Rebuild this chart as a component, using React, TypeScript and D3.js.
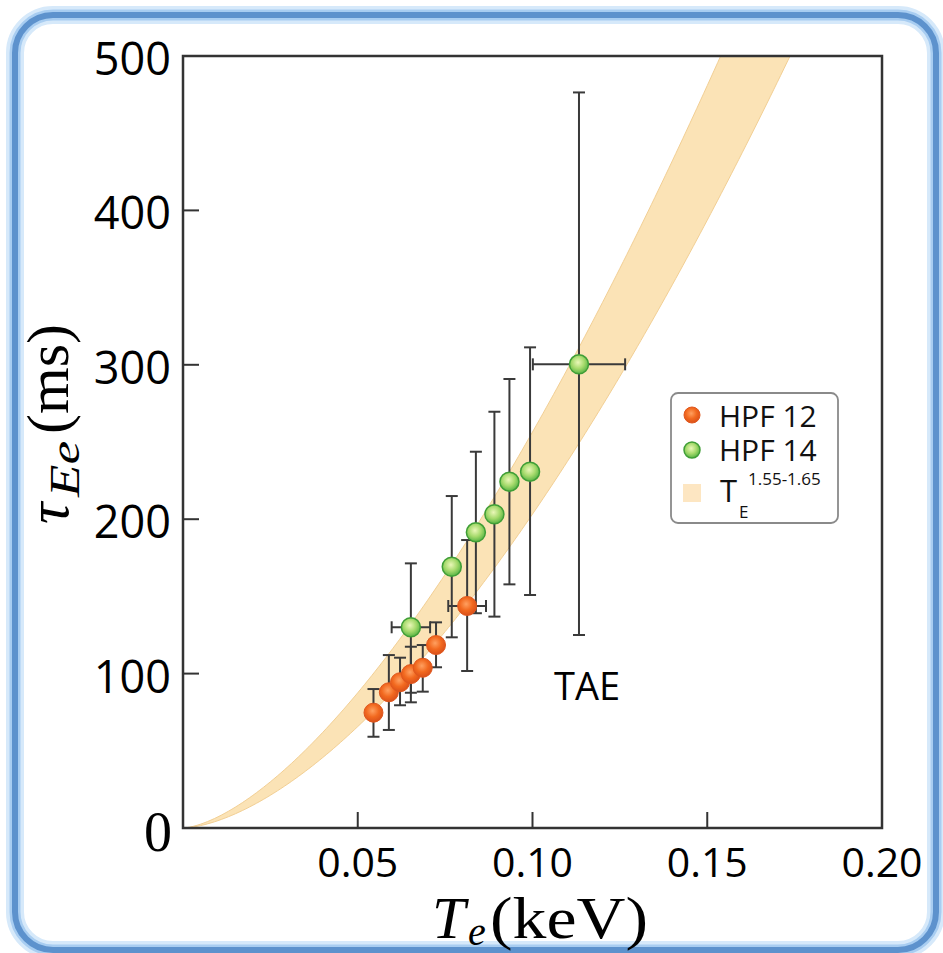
import React from "react";
import * as d3 from "d3";

// ---- data ----
const xTickValues = [0.05, 0.1, 0.15, 0.2];
const xTickLabels = ["0.05", "0.10", "0.15", "0.20"];
const yTickValues = [100, 200, 300, 400, 500];
const yTickLabels = ["100", "200", "300", "400", "500"];

const hpf12T = [0.0545, 0.0589, 0.0621, 0.0652, 0.0686, 0.0724, 0.0813];
const hpf12Tau = [74.7, 87.9, 94.4, 99.7, 103.8, 118.5, 143.8];
const hpf12Lo = [59.1, 63.5, 79.5, 81.4, 88.3, 104.1, 101.7];
const hpf12Hi = [90.0, 112.0, 110.3, 117.4, 118.5, 133.2, 186.5];
const hpf12XErr: [number, number, number][] = [[6, 0.0759, 0.0867]];

const hpf14T = [0.0652, 0.0769, 0.0838, 0.0891, 0.0934, 0.0993, 0.1133];
const hpf14Tau = [130.0, 169.2, 191.5, 203.2, 224.3, 230.8, 300.3];
const hpf14Lo = [87.6, 123.5, 139.1, 136.9, 157.8, 150.9, 125.0];
const hpf14Hi = [171.4, 215.0, 243.7, 269.6, 290.8, 311.3, 476.4];
const hpf14XErr: [number, number, number][] = [
  [0, 0.0597, 0.0707],
  [6, 0.1001, 0.1265],
];

// band  tau = c * T^p  (upper and lower edge)
const bandExp = [1.55, 1.63];
const bandCoef = [9100, 8672];

const W = 943;
const H = 953;
const M = { left: 183, right: 882, top: 56, bottom: 828 };

export default function App() {
  const x = d3.scaleLinear().domain([0, 0.2]).range([M.left, M.right]);
  const y = d3.scaleLinear().domain([0, 500]).range([M.bottom, M.top]);

  const Ts = d3.range(0, 0.2001, 0.001);
  const band = d3
    .area<number>()
    .x((t) => x(t))
    .y0((t) => y(bandCoef[1] * Math.pow(t, bandExp[1])))
    .y1((t) => y(bandCoef[0] * Math.pow(t, bandExp[0])))
    .curve(d3.curveLinear)(Ts) as string;

  const cap = 6;
  const errColor = "#3a3a3a";

  const errBars = (T: number[], lo: number[], hi: number[], xe: [number, number, number][], tau: number[], key: string) => (
    <g key={key} stroke={errColor} strokeWidth={2}>
      {T.map((t, i) => (
        <g key={i}>
          <line x1={x(t)} x2={x(t)} y1={y(lo[i])} y2={y(hi[i])} />
          <line x1={x(t) - cap} x2={x(t) + cap} y1={y(lo[i])} y2={y(lo[i])} />
          <line x1={x(t) - cap} x2={x(t) + cap} y1={y(hi[i])} y2={y(hi[i])} />
        </g>
      ))}
      {xe.map(([i, a, b], k) => (
        <g key={"x" + k}>
          <line x1={x(a)} x2={x(b)} y1={y(tau[i])} y2={y(tau[i])} />
          <line x1={x(a)} x2={x(a)} y1={y(tau[i]) - cap} y2={y(tau[i]) + cap} />
          <line x1={x(b)} x2={x(b)} y1={y(tau[i]) - cap} y2={y(tau[i]) + cap} />
        </g>
      ))}
    </g>
  );

  const r = 9.5;
  const tickFont = "'Open Sans', sans-serif";
  const mathFont = "'Liberation Serif', serif";

  return (
    <svg width={W} height={H} style={{ position: "absolute", left: 0, top: 0, background: "#fff" }}>
      <defs>
        <radialGradient id="gOrange" cx="45%" cy="40%" r="60%">
          <stop offset="0%" stopColor="#ffa060" />
          <stop offset="55%" stopColor="#f2691f" />
          <stop offset="100%" stopColor="#d9501a" />
        </radialGradient>
        <radialGradient id="gGreen" cx="45%" cy="40%" r="60%">
          <stop offset="0%" stopColor="#eaf7b8" />
          <stop offset="55%" stopColor="#a6da6c" />
          <stop offset="100%" stopColor="#58b445" />
        </radialGradient>
        <clipPath id="plotClip">
          <rect x={M.left} y={M.top} width={M.right - M.left} height={M.bottom - M.top} />
        </clipPath>
      </defs>

      {/* frame with glow */}
      <rect x={15} y={15} width={921} height={935} rx={38} fill="none" stroke="#d6e9fa" strokeWidth={18} />
      <rect x={15} y={15} width={921} height={935} rx={38} fill="none" stroke="#a8cdf1" strokeWidth={11} />
      <rect x={15} y={15} width={921} height={935} rx={38} fill="none" stroke="#5d92cd" strokeWidth={6} />

      {/* band */}
      <g clipPath="url(#plotClip)">
        <path d={band} fill="#fbe3b6" stroke="#f2cf94" strokeWidth={1} />
      </g>

      {/* error bars */}
      {errBars(hpf12T, hpf12Lo, hpf12Hi, hpf12XErr, hpf12Tau, "e12")}
      {errBars(hpf14T, hpf14Lo, hpf14Hi, hpf14XErr, hpf14Tau, "e14")}

      {/* points */}
      {hpf14T.map((t, i) => (
        <circle key={"g" + i} cx={x(t)} cy={y(hpf14Tau[i])} r={r} fill="url(#gGreen)" stroke="#3f9e36" strokeWidth={1.5} />
      ))}
      {hpf12T.map((t, i) => (
        <circle key={"o" + i} cx={x(t)} cy={y(hpf12Tau[i])} r={r} fill="url(#gOrange)" stroke="#e0561c" strokeWidth={1} />
      ))}

      {/* axes box */}
      <rect x={M.left} y={M.top} width={M.right - M.left} height={M.bottom - M.top} fill="none" stroke="#333" strokeWidth={2.5} />
      {xTickValues.slice(0, 3).map((v, i) => (
        <line key={"xt" + i} x1={x(v)} x2={x(v)} y1={M.bottom} y2={M.bottom - 16} stroke="#333" strokeWidth={2} />
      ))}
      {yTickValues.slice(0, 4).map((v, i) => (
        <line key={"yt" + i} x1={M.left} x2={M.left + 16} y1={y(v)} y2={y(v)} stroke="#333" strokeWidth={2} />
      ))}

      {/* tick labels */}
      {xTickValues.map((v, i) => (
        <text key={"xl" + i} x={x(v)} y={877} textAnchor="middle" fontFamily={tickFont} fontSize={41} fill="#000">
          {xTickLabels[i]}
        </text>
      ))}
      {yTickValues.map((v, i) => (
        <text key={"yl" + i} x={171} y={y(v) + 19} textAnchor="end" fontFamily={tickFont} fontSize={45} fill="#000">
          {yTickLabels[i]}
        </text>
      ))}
      <text x={172} y={851} textAnchor="end" fontFamily={mathFont} fontSize={56} fill="#000">0</text>

      {/* TAE */}
      <text x={587} y={700} textAnchor="middle" fontFamily={tickFont} fontSize={38} fill="#000">TAE</text>

      {/* legend */}
      <rect x={671} y={393} width={167} height={130} rx={7} fill="#fff" stroke="#8a8a8a" strokeWidth={1.8} />
      <circle cx={692} cy={415} r={8} fill="url(#gOrange)" stroke="#e0561c" strokeWidth={1} />
      <circle cx={692} cy={450} r={8} fill="url(#gGreen)" stroke="#3f9e36" strokeWidth={1.5} />
      <rect x={683} y={484} width={18} height={18} fill="#fde6c2" />
      <text x={719} y={427} fontFamily={tickFont} fontSize={30} fill="#111">HPF 12</text>
      <text x={719} y={461} fontFamily={tickFont} fontSize={30} fill="#111">HPF 14</text>
      <text x={720} y={502} fontFamily={tickFont} fontSize={31} fill="#111">T</text>
      <text x={739} y={518} fontFamily={tickFont} fontSize={17} fill="#111">E</text>
      <text x={748} y={485} fontFamily={tickFont} fontSize={17} fill="#111">1.55-1.65</text>

      {/* x axis label */}
      <text x={432} y={938} fontFamily={mathFont} fontSize={60} fontStyle="italic" fill="#000">T</text>
      <text x={468} y={945} fontFamily={mathFont} fontSize={40} fontStyle="italic" fill="#000">e</text>
      <text x={490} y={938} fontFamily={mathFont} fontSize={60} fill="#000" textLength={158} lengthAdjust="spacingAndGlyphs">(keV)</text>

      {/* y axis label */}
      <g transform="translate(68,0) rotate(-90)">
        <text x={-524} y={0} fontFamily={mathFont} fontSize={60} fontStyle="italic" fill="#000">τ</text>
        <text x={-497} y={11} fontFamily={mathFont} fontSize={42} fontStyle="italic" fill="#000" textLength={56} lengthAdjust="spacingAndGlyphs">Ee</text>
        <text x={-434} y={0} fontFamily={mathFont} fontSize={60} fill="#000" textLength={110} lengthAdjust="spacingAndGlyphs">(ms)</text>
      </g>
    </svg>
  );
}
